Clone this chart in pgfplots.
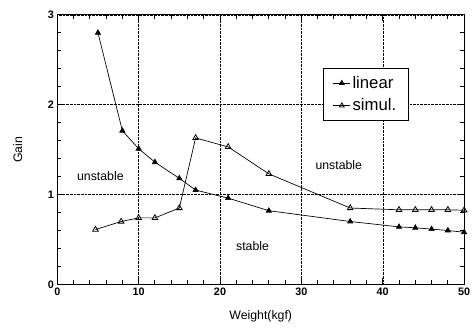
\documentclass[border=0pt]{standalone}
\usepackage{fontspec}
\setmainfont{Liberation Sans}
\usepackage{pgfplots}
\pgfplotsset{compat=1.18}
\begin{document}
\begin{tikzpicture}[x=1bp,y=1bp]
\begin{axis}[
  at={(0,0)}, anchor=south west,
  scale only axis,
  width=412bp, height=273bp,
  xmin=0, xmax=50, ymin=0, ymax=3,
  xtick={0,10,20,30,40,50},
  ytick={0,1,2,3},
  minor x tick num=4,
  minor y tick num=4,
  tick align=inside,
  major tick length=6bp,
  minor tick length=4bp,
  grid=major,
  major grid style={densely dotted, black, line width=0.5pt},
  axis line style={line width=1.1pt},
  tick style={black, line width=0.9pt},
  xlabel={Weight(kgf)},
  ylabel={Gain},
  xlabel style={at={(axis description cs:0.5,-0.117)}, anchor=center},
  ylabel style={at={(axis description cs:-0.097,0.5)}, anchor=center},
  every tick label/.append style={font=\bfseries\fontsize{11}{13}\selectfont},
  label style={font=\fontsize{12.5}{14}\selectfont},
  /pgf/number format/assume math mode=true,
  legend style={at={(0.653,0.802)}, anchor=north west, draw=black, line width=0.6pt, font=\fontsize{17}{19}\selectfont, row sep=5pt, inner xsep=10pt, inner ysep=6pt},
  legend image post style={mark size=2.8pt},
  legend cell align=left,
]
\addplot[black, line width=0.7pt, mark=triangle*, mark size=3pt, mark options={solid}] coordinates {
(5,2.80) (8,1.71) (10,1.51) (12,1.36) (15,1.18) (17,1.05) (21,0.96) (26,0.82) (36,0.70) (42,0.64) (44,0.63) (46,0.615) (48,0.60) (50,0.58)
};
\addlegendentry{linear}
\addplot[black, line width=0.7pt, mark=triangle, mark size=3.3pt, mark options={solid, line width=0.8pt, fill=white}] coordinates {
(4.7,0.61) (7.85,0.70) (10,0.74) (12,0.74) (15,0.85) (17,1.63) (21,1.53) (26,1.23) (36,0.85) (42,0.83) (44,0.83) (46,0.83) (48,0.83) (50,0.825)
};
\addlegendentry{simul.}
\node[font=\fontsize{12.5}{14}\selectfont] at (axis cs:5.3,1.21) {unstable};
\node[font=\fontsize{12.5}{14}\selectfont] at (axis cs:34.6,1.33) {unstable};
\node[font=\fontsize{12.5}{14}\selectfont] at (axis cs:24.0,0.43) {stable};
\end{axis}
\pgfresetboundingbox
\useasboundingbox (-58bp,-50bp) rectangle (421bp,288bp);
\end{tikzpicture}
\end{document}
